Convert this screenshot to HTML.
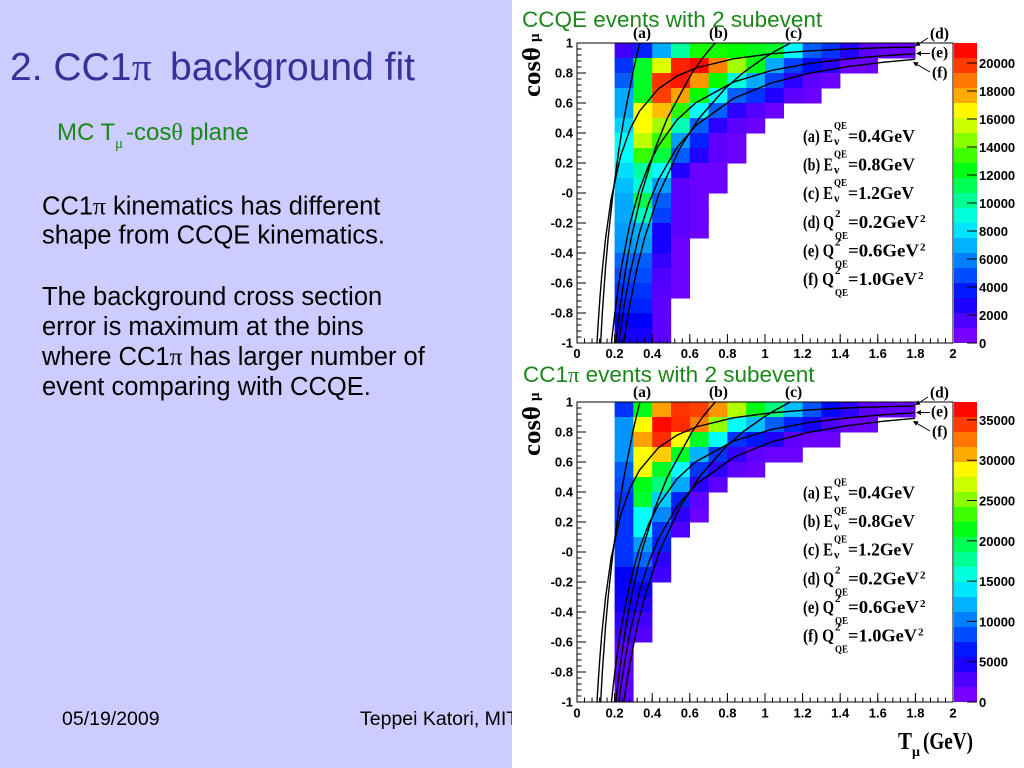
<!DOCTYPE html>
<html><head><meta charset="utf-8"><title>CC1pi background fit</title>
<style>
html,body{margin:0;padding:0;background:#fff;}
body{width:1024px;height:768px;overflow:hidden;}
svg{display:block;}
.sa{font-family:"Liberation Sans",Arial,sans-serif;}
.se{font-family:"Liberation Serif","Times New Roman",serif;font-weight:bold;}
.tk{font-family:"Liberation Sans",Arial,sans-serif;font-weight:bold;font-size:13px;fill:#000;}
</style></head><body>
<svg width="1024" height="768" viewBox="0 0 1024 768" xmlns="http://www.w3.org/2000/svg">
<rect x="0" y="0" width="512" height="768" fill="#ccccff"/>
<g class="sa">
<text x="10" y="80" font-size="39" fill="#333399">2. CC1<tspan x="132" font-family="Liberation Serif">π</tspan><tspan x="170">background fit</tspan></text>
<text y="140" font-size="24" fill="#1b871b"><tspan x="57">MC T</tspan><tspan x="115" y="148" font-size="15" font-family="Liberation Serif">μ</tspan><tspan x="126" y="140">-cos</tspan><tspan font-family="Liberation Serif">θ</tspan><tspan x="190">plane</tspan></text>
<g font-size="25.5" fill="#000">
<text x="42" y="214.5">CC1<tspan font-family="Liberation Serif">π</tspan> kinematics has different</text>
<text x="42" y="243.5">shape from CCQE kinematics.</text>
<text x="42" y="305">The background cross section</text>
<text x="42" y="335">error is maximum at the bins</text>
<text x="42" y="365">where CC1<tspan font-family="Liberation Serif">π</tspan> has larger number of</text>
<text x="42" y="395">event comparing with CCQE.</text>
</g>
<text x="62" y="725" font-size="19.5" fill="#000">05/19/2009</text>
<text x="360" y="725" font-size="19.5" fill="#000">Teppei Katori, MIT</text>
</g>
<rect x="512" y="0" width="512" height="768" fill="#ffffff"/>

<text class="sa" x="522" y="27" font-size="22.5" fill="#1b871b">CCQE events with 2 subevent</text>
<text class="sa" x="523" y="382" font-size="22.5" fill="#1b871b">CC1<tspan font-family="Liberation Serif">π</tspan> events with 2 subevent</text>

<!-- ================= TOP PLOT ================= -->
<g>
<!-- heatmap -->
<g transform="translate(0,43)"><rect x="614.6" width="19.3" height="15.5" fill="hsl(255,100%,50%)"/><rect x="633.4" width="19.3" height="15.5" fill="hsl(232,100%,50%)"/><rect x="652.2" width="19.3" height="15.5" fill="hsl(200,100%,50%)"/><rect x="671" width="19.3" height="15.5" fill="hsl(158,100%,50%)"/><rect x="689.8" width="19.3" height="15.5" fill="hsl(115,100%,50%)"/><rect x="708.6" width="19.3" height="15.5" fill="hsl(115,100%,50%)"/><rect x="727.4" width="19.3" height="15.5" fill="hsl(120,100%,50%)"/><rect x="746.2" width="19.3" height="15.5" fill="hsl(125,100%,50%)"/><rect x="765" width="19.3" height="15.5" fill="hsl(130,100%,50%)"/><rect x="783.8" width="19.3" height="15.5" fill="hsl(182,100%,50%)"/><rect x="802.6" width="19.3" height="15.5" fill="hsl(218,100%,50%)"/><rect x="821.4" width="19.3" height="15.5" fill="hsl(228,100%,50%)"/><rect x="840.2" width="19.3" height="15.5" fill="hsl(248,100%,50%)"/><rect x="859" width="19.3" height="15.5" fill="hsl(262,100%,50%)"/><rect x="877.8" width="19.3" height="15.5" fill="hsl(265,100%,50%)"/><rect x="896.6" width="19" height="15.5" fill="hsl(265,100%,50%)"/></g>
<g transform="translate(0,58)"><rect x="614.6" width="19.3" height="15.5" fill="hsl(228,100%,50%)"/><rect x="633.4" width="19.3" height="15.5" fill="hsl(130,100%,50%)"/><rect x="652.2" width="19.3" height="15.5" fill="hsl(68,100%,50%)"/><rect x="671" width="19.3" height="15.5" fill="hsl(8,100%,50%)"/><rect x="689.8" width="19.3" height="15.5" fill="hsl(2,100%,50%)"/><rect x="708.6" width="19.3" height="15.5" fill="hsl(30,100%,50%)"/><rect x="727.4" width="19.3" height="15.5" fill="hsl(82,100%,50%)"/><rect x="746.2" width="19.3" height="15.5" fill="hsl(125,100%,50%)"/><rect x="765" width="19.3" height="15.5" fill="hsl(200,100%,50%)"/><rect x="783.8" width="19.3" height="15.5" fill="hsl(225,100%,50%)"/><rect x="802.6" width="19.3" height="15.5" fill="hsl(238,100%,50%)"/><rect x="821.4" width="19.3" height="15.5" fill="hsl(250,100%,50%)"/><rect x="840.2" width="19.3" height="15.5" fill="hsl(265,100%,50%)"/><rect x="859" width="19" height="15.5" fill="hsl(265,100%,50%)"/></g>
<g transform="translate(0,73)"><rect x="614.6" width="19.3" height="15.5" fill="hsl(218,100%,50%)"/><rect x="633.4" width="19.3" height="15.5" fill="hsl(128,100%,50%)"/><rect x="652.2" width="19.3" height="15.5" fill="hsl(12,100%,50%)"/><rect x="671" width="19.3" height="15.5" fill="hsl(5,100%,50%)"/><rect x="689.8" width="19.3" height="15.5" fill="hsl(35,100%,50%)"/><rect x="708.6" width="19.3" height="15.5" fill="hsl(120,100%,50%)"/><rect x="727.4" width="19.3" height="15.5" fill="hsl(172,100%,50%)"/><rect x="746.2" width="19.3" height="15.5" fill="hsl(200,100%,50%)"/><rect x="765" width="19.3" height="15.5" fill="hsl(225,100%,50%)"/><rect x="783.8" width="19.3" height="15.5" fill="hsl(250,100%,50%)"/><rect x="802.6" width="19.3" height="15.5" fill="hsl(262,100%,50%)"/><rect x="821.4" width="19" height="15.5" fill="hsl(265,100%,50%)"/></g>
<g transform="translate(0,88)"><rect x="614.6" width="19.3" height="15.5" fill="hsl(200,100%,50%)"/><rect x="633.4" width="19.3" height="15.5" fill="hsl(128,100%,50%)"/><rect x="652.2" width="19.3" height="15.5" fill="hsl(15,100%,50%)"/><rect x="671" width="19.3" height="15.5" fill="hsl(38,100%,50%)"/><rect x="689.8" width="19.3" height="15.5" fill="hsl(118,100%,50%)"/><rect x="708.6" width="19.3" height="15.5" fill="hsl(180,100%,50%)"/><rect x="727.4" width="19.3" height="15.5" fill="hsl(218,100%,50%)"/><rect x="746.2" width="19.3" height="15.5" fill="hsl(228,100%,50%)"/><rect x="765" width="19.3" height="15.5" fill="hsl(248,100%,50%)"/><rect x="783.8" width="19.3" height="15.5" fill="hsl(262,100%,50%)"/><rect x="802.6" width="19" height="15.5" fill="hsl(265,100%,50%)"/></g>
<g transform="translate(0,103)"><rect x="614.6" width="19.3" height="15.5" fill="hsl(200,100%,50%)"/><rect x="633.4" width="19.3" height="15.5" fill="hsl(62,100%,50%)"/><rect x="652.2" width="19.3" height="15.5" fill="hsl(45,100%,50%)"/><rect x="671" width="19.3" height="15.5" fill="hsl(110,100%,50%)"/><rect x="689.8" width="19.3" height="15.5" fill="hsl(180,100%,50%)"/><rect x="708.6" width="19.3" height="15.5" fill="hsl(218,100%,50%)"/><rect x="727.4" width="19.3" height="15.5" fill="hsl(250,100%,50%)"/><rect x="746.2" width="19.3" height="15.5" fill="hsl(260,100%,50%)"/><rect x="765" width="19" height="15.5" fill="hsl(265,100%,50%)"/></g>
<g transform="translate(0,118)"><rect x="614.6" width="19.3" height="15.5" fill="hsl(190,100%,50%)"/><rect x="633.4" width="19.3" height="15.5" fill="hsl(60,100%,50%)"/><rect x="652.2" width="19.3" height="15.5" fill="hsl(82,100%,50%)"/><rect x="671" width="19.3" height="15.5" fill="hsl(162,100%,50%)"/><rect x="689.8" width="19.3" height="15.5" fill="hsl(218,100%,50%)"/><rect x="708.6" width="19.3" height="15.5" fill="hsl(250,100%,50%)"/><rect x="727.4" width="19.3" height="15.5" fill="hsl(262,100%,50%)"/><rect x="746.2" width="19" height="15.5" fill="hsl(265,100%,50%)"/></g>
<g transform="translate(0,133)"><rect x="614.6" width="19.3" height="15.5" fill="hsl(180,100%,50%)"/><rect x="633.4" width="19.3" height="15.5" fill="hsl(75,100%,50%)"/><rect x="652.2" width="19.3" height="15.5" fill="hsl(108,100%,50%)"/><rect x="671" width="19.3" height="15.5" fill="hsl(203,100%,50%)"/><rect x="689.8" width="19.3" height="15.5" fill="hsl(232,100%,50%)"/><rect x="708.6" width="19.3" height="15.5" fill="hsl(262,100%,50%)"/><rect x="727.4" width="19" height="15.5" fill="hsl(265,100%,50%)"/></g>
<g transform="translate(0,148)"><rect x="614.6" width="19.3" height="15.5" fill="hsl(180,100%,50%)"/><rect x="633.4" width="19.3" height="15.5" fill="hsl(108,100%,50%)"/><rect x="652.2" width="19.3" height="15.5" fill="hsl(135,100%,50%)"/><rect x="671" width="19.3" height="15.5" fill="hsl(218,100%,50%)"/><rect x="689.8" width="19.3" height="15.5" fill="hsl(248,100%,50%)"/><rect x="708.6" width="19.3" height="15.5" fill="hsl(262,100%,50%)"/><rect x="727.4" width="19" height="15.5" fill="hsl(265,100%,50%)"/></g>
<g transform="translate(0,163)"><rect x="614.6" width="19.3" height="15.5" fill="hsl(188,100%,50%)"/><rect x="633.4" width="19.3" height="15.5" fill="hsl(158,100%,50%)"/><rect x="652.2" width="19.3" height="15.5" fill="hsl(180,100%,50%)"/><rect x="671" width="19.3" height="15.5" fill="hsl(248,100%,50%)"/><rect x="689.8" width="19.3" height="15.5" fill="hsl(265,100%,50%)"/><rect x="708.6" width="19" height="15.5" fill="hsl(265,100%,50%)"/></g>
<g transform="translate(0,178)"><rect x="614.6" width="19.3" height="15.5" fill="hsl(195,100%,50%)"/><rect x="633.4" width="19.3" height="15.5" fill="hsl(170,100%,50%)"/><rect x="652.2" width="19.3" height="15.5" fill="hsl(203,100%,50%)"/><rect x="671" width="19.3" height="15.5" fill="hsl(262,100%,50%)"/><rect x="689.8" width="19.3" height="15.5" fill="hsl(265,100%,50%)"/><rect x="708.6" width="19" height="15.5" fill="hsl(265,100%,50%)"/></g>
<g transform="translate(0,193)"><rect x="614.6" width="19.3" height="15.5" fill="hsl(200,100%,50%)"/><rect x="633.4" width="19.3" height="15.5" fill="hsl(140,100%,50%)"/><rect x="652.2" width="19.3" height="15.5" fill="hsl(218,100%,50%)"/><rect x="671" width="19.3" height="15.5" fill="hsl(262,100%,50%)"/><rect x="689.8" width="19" height="15.5" fill="hsl(265,100%,50%)"/></g>
<g transform="translate(0,208)"><rect x="614.6" width="19.3" height="15.5" fill="hsl(200,100%,50%)"/><rect x="633.4" width="19.3" height="15.5" fill="hsl(165,100%,50%)"/><rect x="652.2" width="19.3" height="15.5" fill="hsl(225,100%,50%)"/><rect x="671" width="19.3" height="15.5" fill="hsl(262,100%,50%)"/><rect x="689.8" width="19" height="15.5" fill="hsl(265,100%,50%)"/></g>
<g transform="translate(0,223)"><rect x="614.6" width="19.3" height="15.5" fill="hsl(203,100%,50%)"/><rect x="633.4" width="19.3" height="15.5" fill="hsl(200,100%,50%)"/><rect x="652.2" width="19.3" height="15.5" fill="hsl(245,100%,50%)"/><rect x="671" width="19.3" height="15.5" fill="hsl(262,100%,50%)"/><rect x="689.8" width="19" height="15.5" fill="hsl(265,100%,50%)"/></g>
<g transform="translate(0,238)"><rect x="614.6" width="19.3" height="15.5" fill="hsl(205,100%,50%)"/><rect x="633.4" width="19.3" height="15.5" fill="hsl(203,100%,50%)"/><rect x="652.2" width="19.3" height="15.5" fill="hsl(245,100%,50%)"/><rect x="671" width="19" height="15.5" fill="hsl(265,100%,50%)"/></g>
<g transform="translate(0,253)"><rect x="614.6" width="19.3" height="15.5" fill="hsl(215,100%,50%)"/><rect x="633.4" width="19.3" height="15.5" fill="hsl(218,100%,50%)"/><rect x="652.2" width="19.3" height="15.5" fill="hsl(252,100%,50%)"/><rect x="671" width="19" height="15.5" fill="hsl(265,100%,50%)"/></g>
<g transform="translate(0,268)"><rect x="614.6" width="19.3" height="15.5" fill="hsl(222,100%,50%)"/><rect x="633.4" width="19.3" height="15.5" fill="hsl(222,100%,50%)"/><rect x="652.2" width="19.3" height="15.5" fill="hsl(258,100%,50%)"/><rect x="671" width="19" height="15.5" fill="hsl(265,100%,50%)"/></g>
<g transform="translate(0,283)"><rect x="614.6" width="19.3" height="15.5" fill="hsl(228,100%,50%)"/><rect x="633.4" width="19.3" height="15.5" fill="hsl(228,100%,50%)"/><rect x="652.2" width="19.3" height="15.5" fill="hsl(260,100%,50%)"/><rect x="671" width="19" height="15.5" fill="hsl(265,100%,50%)"/></g>
<g transform="translate(0,298)"><rect x="614.6" width="19.3" height="15.5" fill="hsl(232,100%,50%)"/><rect x="633.4" width="19.3" height="15.5" fill="hsl(232,100%,50%)"/><rect x="652.2" width="19" height="15.5" fill="hsl(262,100%,50%)"/></g>
<g transform="translate(0,313)"><rect x="614.6" width="19.3" height="15.5" fill="hsl(240,100%,50%)"/><rect x="633.4" width="19.3" height="15.5" fill="hsl(240,100%,50%)"/><rect x="652.2" width="19" height="15.5" fill="hsl(262,100%,50%)"/></g>
<g transform="translate(0,328)"><rect x="614.6" width="19.3" height="15" fill="hsl(245,100%,50%)"/><rect x="633.4" width="19.3" height="15" fill="hsl(245,100%,50%)"/><rect x="652.2" width="19" height="15" fill="hsl(262,100%,50%)"/></g>
<!-- curves -->
<g fill="none" stroke="#000" stroke-width="1.4" stroke-linejoin="round">
<path d="M600.65 343L602.32 313L605.51 268L608.16 238L613.01 193L619.10 148L624.0 118L632.8 73L636.2 58L639.95 43"/>
<path d="M615.87 343L619.30 313L625.80 268L631.24 238L641.54 193L655.35 148L667.37 118L691.94 73L702.67 58L708.70 50.5L715.23 43"/>
<path d="M623.74 343L628.32 313L637.10 268L644.59 238L659.22 193L679.97 148L699.23 118L725.68 88L742.78 73L763.88 58L776.36 50.5L790.45 43"/>
<path d="M597.0 343L598.04 325.6L599.92 298.2L601.8 275.1L605.56 238.3L611.2 198.6L620.6 156.0L630.0 129.3L639.4 111.3L658.2 88.9L677.0 76.1L695.8 68.0L733.4 58.8L771.0 53.8L808.6 50.9L846.2 49.0L883.8 47.7L915.0 47.0"/>
<path d="M611.48 343L612.14 336.6L614.96 311.8L620.6 271.6L630.0 223.3L639.4 189.6L648.8 164.9L658.2 146.1L677.0 119.9L695.8 102.7L733.4 82.1L771.0 70.6L808.6 63.6L846.2 59.0L883.8 55.7L915.0 53.7"/>
<path d="M618.87 343L620.6 329.9L624.36 304.6L630.0 273.2L639.4 233.0L648.8 203.1L658.2 180.2L677.0 147.4L695.8 125.5L733.4 98.5L771.0 83.1L808.6 73.3L846.2 66.8L883.8 62.2L915.0 59.3"/>
</g>
<!-- colorbar -->
<g>
<rect x="954" y="43" width="23" height="15.5" fill="hsl(2,100%,50%)"/><rect x="954" y="58" width="23" height="15.5" fill="hsl(14,100%,50%)"/><rect x="954" y="73" width="23" height="15.5" fill="hsl(28,100%,50%)"/><rect x="954" y="88" width="23" height="15.5" fill="hsl(40,100%,50%)"/><rect x="954" y="103" width="23" height="15.5" fill="hsl(58,100%,50%)"/><rect x="954" y="118" width="23" height="15.5" fill="hsl(72,100%,50%)"/><rect x="954" y="133" width="23" height="15.5" fill="hsl(88,100%,50%)"/><rect x="954" y="148" width="23" height="15.5" fill="hsl(105,100%,50%)"/><rect x="954" y="163" width="23" height="15.5" fill="hsl(125,100%,50%)"/><rect x="954" y="178" width="23" height="15.5" fill="hsl(140,100%,50%)"/><rect x="954" y="193" width="23" height="15.5" fill="hsl(155,100%,50%)"/><rect x="954" y="208" width="23" height="15.5" fill="hsl(172,100%,50%)"/><rect x="954" y="223" width="23" height="15.5" fill="hsl(186,100%,50%)"/><rect x="954" y="238" width="23" height="15.5" fill="hsl(198,100%,50%)"/><rect x="954" y="253" width="23" height="15.5" fill="hsl(210,100%,50%)"/><rect x="954" y="268" width="23" height="15.5" fill="hsl(222,100%,50%)"/><rect x="954" y="283" width="23" height="15.5" fill="hsl(234,100%,50%)"/><rect x="954" y="298" width="23" height="15.5" fill="hsl(246,100%,50%)"/><rect x="954" y="313" width="23" height="15.5" fill="hsl(258,100%,50%)"/><rect x="954" y="328" width="23" height="15" fill="hsl(268,100%,50%)"/>
<path d="M967 63h10M967 91h10M967 119h10M967 147h10M967 175h10M967 203h10M967 231h10M967 259h10M967 287h10M967 315h10M967 343h10" stroke="#000" stroke-width="1"/>
</g>
<!-- frame & ticks -->
<rect x="577" y="43" width="376" height="300" fill="none" stroke="#000" stroke-width="1"/>
<g stroke="#000">
<line x1="579.25" y1="42.5" x2="579.25" y2="344" stroke-width="4.5" stroke-dasharray="1 5"/>
<line x1="581.5" y1="42.5" x2="581.5" y2="344" stroke-width="9" stroke-dasharray="1 29"/>
<line x1="576.5" y1="340.75" x2="954" y2="340.75" stroke-width="4.5" stroke-dasharray="1 6.52"/>
<line x1="576.5" y1="338.5" x2="954" y2="338.5" stroke-width="9" stroke-dasharray="1 36.6"/>
<path d="M928 38L917 45M930 53.5L918 53.5M930 72L915 63.3" stroke-width="1" fill="none"/>
</g>
<path d="M915 46L920.6 45.5L918 41.3ZM916 53.5L921 51L921 56ZM913 62L918.6 62.4L916 66.7Z" fill="#000"/>
<!-- labels -->
<g class="tk" text-anchor="end">
<text x="573" y="47.5">1</text><text x="573" y="77.5">0.8</text><text x="573" y="107.5">0.6</text><text x="573" y="137.5">0.4</text><text x="573" y="167.5">0.2</text><text x="573" y="197.5">-0</text><text x="573" y="227.5">-0.2</text><text x="573" y="257.5">-0.4</text><text x="573" y="287.5">-0.6</text><text x="573" y="317.5">-0.8</text><text x="573" y="347.5">-1</text>
</g>
<g class="tk" text-anchor="middle">
<text x="577" y="358">0</text><text x="614.6" y="358">0.2</text><text x="652.2" y="358">0.4</text><text x="689.8" y="358">0.6</text><text x="727.4" y="358">0.8</text><text x="765" y="358">1</text><text x="802.6" y="358">1.2</text><text x="840.2" y="358">1.4</text><text x="877.8" y="358">1.6</text><text x="915.4" y="358">1.8</text><text x="953" y="358">2</text>
</g>
<g class="tk" font-size="13.5">
<text x="979" y="68">20000</text><text x="979" y="96">18000</text><text x="979" y="124">16000</text><text x="979" y="152">14000</text><text x="979" y="180">12000</text><text x="979" y="208">10000</text><text x="979" y="236">8000</text><text x="979" y="264">6000</text><text x="979" y="292">4000</text><text x="979" y="320">2000</text><text x="979" y="348">0</text>
</g>
<text class="se" font-size="25" transform="translate(540,97) rotate(-90)" textLength="50" lengthAdjust="spacingAndGlyphs">cosθ</text>
<text class="se" font-size="15" transform="translate(539,42) rotate(-90)">μ</text>
<g class="se" fill="#000">
<text x="633" y="38" font-size="15.5">(a)</text>
<text x="709" y="38" font-size="15.5">(b)</text>
<text x="785" y="38" font-size="15.5">(c)</text>
<text x="930" y="38.5" font-size="15.5">(d)</text>
<text x="931" y="57.5" font-size="15.5">(e)</text>
<text x="932" y="77.5" font-size="15.5">(f)</text>
</g>
<g class="se" fill="#000">
<text x="803" y="142" font-size="18" textLength="30" lengthAdjust="spacingAndGlyphs">(a) E</text>
<text x="834" y="129" font-size="11" textLength="13" lengthAdjust="spacingAndGlyphs">QE</text>
<text x="834" y="145" font-size="12">ν</text>
<text x="848" y="142" font-size="18" textLength="67" lengthAdjust="spacingAndGlyphs">=0.4GeV</text>
<text x="803" y="170.5" font-size="18" textLength="30" lengthAdjust="spacingAndGlyphs">(b) E</text>
<text x="834" y="157.5" font-size="11" textLength="13" lengthAdjust="spacingAndGlyphs">QE</text>
<text x="834" y="173.5" font-size="12">ν</text>
<text x="848" y="170.5" font-size="18" textLength="67" lengthAdjust="spacingAndGlyphs">=0.8GeV</text>
<text x="803" y="199" font-size="18" textLength="30" lengthAdjust="spacingAndGlyphs">(c) E</text>
<text x="834" y="186" font-size="11" textLength="13" lengthAdjust="spacingAndGlyphs">QE</text>
<text x="834" y="202" font-size="12">ν</text>
<text x="848" y="199" font-size="18" textLength="66" lengthAdjust="spacingAndGlyphs">=1.2GeV</text>
<text x="803" y="228" font-size="18" textLength="31" lengthAdjust="spacingAndGlyphs">(d) Q</text>
<text x="835" y="217" font-size="11">2</text>
<text x="835" y="239" font-size="11" textLength="13" lengthAdjust="spacingAndGlyphs">QE</text>
<text x="848" y="228" font-size="18" textLength="71" lengthAdjust="spacingAndGlyphs">=0.2GeV</text>
<text x="920" y="222" font-size="11">2</text>
<text x="803" y="256.5" font-size="18" textLength="31" lengthAdjust="spacingAndGlyphs">(e) Q</text>
<text x="835" y="245.5" font-size="11">2</text>
<text x="835" y="267.5" font-size="11" textLength="13" lengthAdjust="spacingAndGlyphs">QE</text>
<text x="848" y="256.5" font-size="18" textLength="71" lengthAdjust="spacingAndGlyphs">=0.6GeV</text>
<text x="920" y="250.5" font-size="11">2</text>
<text x="803" y="285" font-size="18" textLength="31" lengthAdjust="spacingAndGlyphs">(f) Q</text>
<text x="835" y="274" font-size="11">2</text>
<text x="835" y="296" font-size="11" textLength="13" lengthAdjust="spacingAndGlyphs">QE</text>
<text x="848" y="285" font-size="18" textLength="69" lengthAdjust="spacingAndGlyphs">=1.0GeV</text>
<text x="918" y="279" font-size="11">2</text>
</g>
</g>

<!-- ================= BOTTOM PLOT ================= -->
<g transform="translate(0,359)">
<g transform="translate(0,43)"><rect x="614.6" width="19.3" height="15.5" fill="hsl(228,100%,50%)"/><rect x="633.4" width="19.3" height="15.5" fill="hsl(125,100%,50%)"/><rect x="652.2" width="19.3" height="15.5" fill="hsl(38,100%,50%)"/><rect x="671" width="19.3" height="15.5" fill="hsl(12,100%,50%)"/><rect x="689.8" width="19.3" height="15.5" fill="hsl(15,100%,50%)"/><rect x="708.6" width="19.3" height="15.5" fill="hsl(35,100%,50%)"/><rect x="727.4" width="19.3" height="15.5" fill="hsl(78,100%,50%)"/><rect x="746.2" width="19.3" height="15.5" fill="hsl(125,100%,50%)"/><rect x="765" width="19.3" height="15.5" fill="hsl(150,100%,50%)"/><rect x="783.8" width="19.3" height="15.5" fill="hsl(195,100%,50%)"/><rect x="802.6" width="19.3" height="15.5" fill="hsl(220,100%,50%)"/><rect x="821.4" width="19.3" height="15.5" fill="hsl(238,100%,50%)"/><rect x="840.2" width="19.3" height="15.5" fill="hsl(250,100%,50%)"/><rect x="859" width="19.3" height="15.5" fill="hsl(262,100%,50%)"/><rect x="877.8" width="19.3" height="15.5" fill="hsl(265,100%,50%)"/><rect x="896.6" width="19" height="15.5" fill="hsl(265,100%,50%)"/></g>
<g transform="translate(0,58)"><rect x="614.6" width="19.3" height="15.5" fill="hsl(205,100%,50%)"/><rect x="633.4" width="19.3" height="15.5" fill="hsl(60,100%,50%)"/><rect x="652.2" width="19.3" height="15.5" fill="hsl(2,100%,50%)"/><rect x="671" width="19.3" height="15.5" fill="hsl(10,100%,50%)"/><rect x="689.8" width="19.3" height="15.5" fill="hsl(30,100%,50%)"/><rect x="708.6" width="19.3" height="15.5" fill="hsl(85,100%,50%)"/><rect x="727.4" width="19.3" height="15.5" fill="hsl(178,100%,50%)"/><rect x="746.2" width="19.3" height="15.5" fill="hsl(195,100%,50%)"/><rect x="765" width="19.3" height="15.5" fill="hsl(218,100%,50%)"/><rect x="783.8" width="19.3" height="15.5" fill="hsl(232,100%,50%)"/><rect x="802.6" width="19.3" height="15.5" fill="hsl(245,100%,50%)"/><rect x="821.4" width="19.3" height="15.5" fill="hsl(258,100%,50%)"/><rect x="840.2" width="19.3" height="15.5" fill="hsl(265,100%,50%)"/><rect x="859" width="19" height="15.5" fill="hsl(265,100%,50%)"/></g>
<g transform="translate(0,73)"><rect x="614.6" width="19.3" height="15.5" fill="hsl(205,100%,50%)"/><rect x="633.4" width="19.3" height="15.5" fill="hsl(38,100%,50%)"/><rect x="652.2" width="19.3" height="15.5" fill="hsl(10,100%,50%)"/><rect x="671" width="19.3" height="15.5" fill="hsl(60,100%,50%)"/><rect x="689.8" width="19.3" height="15.5" fill="hsl(128,100%,50%)"/><rect x="708.6" width="19.3" height="15.5" fill="hsl(180,100%,50%)"/><rect x="727.4" width="19.3" height="15.5" fill="hsl(228,100%,50%)"/><rect x="746.2" width="19.3" height="15.5" fill="hsl(235,100%,50%)"/><rect x="765" width="19.3" height="15.5" fill="hsl(248,100%,50%)"/><rect x="783.8" width="19.3" height="15.5" fill="hsl(262,100%,50%)"/><rect x="802.6" width="19.3" height="15.5" fill="hsl(265,100%,50%)"/><rect x="821.4" width="19" height="15.5" fill="hsl(265,100%,50%)"/></g>
<g transform="translate(0,88)"><rect x="614.6" width="19.3" height="15.5" fill="hsl(205,100%,50%)"/><rect x="633.4" width="19.3" height="15.5" fill="hsl(60,100%,50%)"/><rect x="652.2" width="19.3" height="15.5" fill="hsl(48,100%,50%)"/><rect x="671" width="19.3" height="15.5" fill="hsl(128,100%,50%)"/><rect x="689.8" width="19.3" height="15.5" fill="hsl(198,100%,50%)"/><rect x="708.6" width="19.3" height="15.5" fill="hsl(228,100%,50%)"/><rect x="727.4" width="19.3" height="15.5" fill="hsl(252,100%,50%)"/><rect x="746.2" width="19.3" height="15.5" fill="hsl(262,100%,50%)"/><rect x="765" width="19.3" height="15.5" fill="hsl(265,100%,50%)"/><rect x="783.8" width="19" height="15.5" fill="hsl(265,100%,50%)"/></g>
<g transform="translate(0,103)"><rect x="614.6" width="19.3" height="15.5" fill="hsl(218,100%,50%)"/><rect x="633.4" width="19.3" height="15.5" fill="hsl(62,100%,50%)"/><rect x="652.2" width="19.3" height="15.5" fill="hsl(128,100%,50%)"/><rect x="671" width="19.3" height="15.5" fill="hsl(180,100%,50%)"/><rect x="689.8" width="19.3" height="15.5" fill="hsl(228,100%,50%)"/><rect x="708.6" width="19.3" height="15.5" fill="hsl(250,100%,50%)"/><rect x="727.4" width="19.3" height="15.5" fill="hsl(262,100%,50%)"/><rect x="746.2" width="19" height="15.5" fill="hsl(265,100%,50%)"/></g>
<g transform="translate(0,118)"><rect x="614.6" width="19.3" height="15.5" fill="hsl(222,100%,50%)"/><rect x="633.4" width="19.3" height="15.5" fill="hsl(125,100%,50%)"/><rect x="652.2" width="19.3" height="15.5" fill="hsl(150,100%,50%)"/><rect x="671" width="19.3" height="15.5" fill="hsl(200,100%,50%)"/><rect x="689.8" width="19.3" height="15.5" fill="hsl(250,100%,50%)"/><rect x="708.6" width="19" height="15.5" fill="hsl(262,100%,50%)"/></g>
<g transform="translate(0,133)"><rect x="614.6" width="19.3" height="15.5" fill="hsl(228,100%,50%)"/><rect x="633.4" width="19.3" height="15.5" fill="hsl(130,100%,50%)"/><rect x="652.2" width="19.3" height="15.5" fill="hsl(192,100%,50%)"/><rect x="671" width="19.3" height="15.5" fill="hsl(232,100%,50%)"/><rect x="689.8" width="19" height="15.5" fill="hsl(262,100%,50%)"/></g>
<g transform="translate(0,148)"><rect x="614.6" width="19.3" height="15.5" fill="hsl(228,100%,50%)"/><rect x="633.4" width="19.3" height="15.5" fill="hsl(180,100%,50%)"/><rect x="652.2" width="19.3" height="15.5" fill="hsl(208,100%,50%)"/><rect x="671" width="19.3" height="15.5" fill="hsl(250,100%,50%)"/><rect x="689.8" width="19" height="15.5" fill="hsl(265,100%,50%)"/></g>
<g transform="translate(0,163)"><rect x="614.6" width="19.3" height="15.5" fill="hsl(228,100%,50%)"/><rect x="633.4" width="19.3" height="15.5" fill="hsl(180,100%,50%)"/><rect x="652.2" width="19.3" height="15.5" fill="hsl(228,100%,50%)"/><rect x="671" width="19" height="15.5" fill="hsl(258,100%,50%)"/></g>
<g transform="translate(0,178)"><rect x="614.6" width="19.3" height="15.5" fill="hsl(228,100%,50%)"/><rect x="633.4" width="19.3" height="15.5" fill="hsl(203,100%,50%)"/><rect x="652.2" width="19" height="15.5" fill="hsl(232,100%,50%)"/></g>
<g transform="translate(0,193)"><rect x="614.6" width="19.3" height="15.5" fill="hsl(228,100%,50%)"/><rect x="633.4" width="19.3" height="15.5" fill="hsl(215,100%,50%)"/><rect x="652.2" width="19" height="15.5" fill="hsl(250,100%,50%)"/></g>
<g transform="translate(0,208)"><rect x="614.6" width="19.3" height="15.5" fill="hsl(240,100%,50%)"/><rect x="633.4" width="19.3" height="15.5" fill="hsl(232,100%,50%)"/><rect x="652.2" width="19" height="15.5" fill="hsl(255,100%,50%)"/></g>
<g transform="translate(0,223)"><rect x="614.6" width="19.3" height="15.5" fill="hsl(242,100%,50%)"/><rect x="633.4" width="19" height="15.5" fill="hsl(242,100%,50%)"/></g>
<g transform="translate(0,238)"><rect x="614.6" width="19.3" height="15.5" fill="hsl(244,100%,50%)"/><rect x="633.4" width="19" height="15.5" fill="hsl(248,100%,50%)"/></g>
<g transform="translate(0,253)"><rect x="614.6" width="19.3" height="15.5" fill="hsl(250,100%,50%)"/><rect x="633.4" width="19" height="15.5" fill="hsl(255,100%,50%)"/></g>
<g transform="translate(0,268)"><rect x="614.6" width="19.3" height="15.5" fill="hsl(255,100%,50%)"/><rect x="633.4" width="19" height="15.5" fill="hsl(260,100%,50%)"/></g>
<rect x="614.6" y="283" width="19" height="60" fill="hsl(262,100%,50%)"/>
<g fill="none" stroke="#000" stroke-width="1.4" stroke-linejoin="round">
<path d="M600.65 343L602.32 313L605.51 268L608.16 238L613.01 193L619.10 148L624.0 118L632.8 73L636.2 58L639.95 43"/>
<path d="M615.87 343L619.30 313L625.80 268L631.24 238L641.54 193L655.35 148L667.37 118L691.94 73L702.67 58L708.70 50.5L715.23 43"/>
<path d="M623.74 343L628.32 313L637.10 268L644.59 238L659.22 193L679.97 148L699.23 118L725.68 88L742.78 73L763.88 58L776.36 50.5L790.45 43"/>
<path d="M597.0 343L598.04 325.6L599.92 298.2L601.8 275.1L605.56 238.3L611.2 198.6L620.6 156.0L630.0 129.3L639.4 111.3L658.2 88.9L677.0 76.1L695.8 68.0L733.4 58.8L771.0 53.8L808.6 50.9L846.2 49.0L883.8 47.7L915.0 47.0"/>
<path d="M611.48 343L612.14 336.6L614.96 311.8L620.6 271.6L630.0 223.3L639.4 189.6L648.8 164.9L658.2 146.1L677.0 119.9L695.8 102.7L733.4 82.1L771.0 70.6L808.6 63.6L846.2 59.0L883.8 55.7L915.0 53.7"/>
<path d="M618.87 343L620.6 329.9L624.36 304.6L630.0 273.2L639.4 233.0L648.8 203.1L658.2 180.2L677.0 147.4L695.8 125.5L733.4 98.5L771.0 83.1L808.6 73.3L846.2 66.8L883.8 62.2L915.0 59.3"/>
</g>
<g>
<rect x="954" y="43" width="23" height="15.5" fill="hsl(2,100%,50%)"/><rect x="954" y="58" width="23" height="15.5" fill="hsl(14,100%,50%)"/><rect x="954" y="73" width="23" height="15.5" fill="hsl(28,100%,50%)"/><rect x="954" y="88" width="23" height="15.5" fill="hsl(40,100%,50%)"/><rect x="954" y="103" width="23" height="15.5" fill="hsl(58,100%,50%)"/><rect x="954" y="118" width="23" height="15.5" fill="hsl(72,100%,50%)"/><rect x="954" y="133" width="23" height="15.5" fill="hsl(88,100%,50%)"/><rect x="954" y="148" width="23" height="15.5" fill="hsl(105,100%,50%)"/><rect x="954" y="163" width="23" height="15.5" fill="hsl(125,100%,50%)"/><rect x="954" y="178" width="23" height="15.5" fill="hsl(140,100%,50%)"/><rect x="954" y="193" width="23" height="15.5" fill="hsl(155,100%,50%)"/><rect x="954" y="208" width="23" height="15.5" fill="hsl(172,100%,50%)"/><rect x="954" y="223" width="23" height="15.5" fill="hsl(186,100%,50%)"/><rect x="954" y="238" width="23" height="15.5" fill="hsl(198,100%,50%)"/><rect x="954" y="253" width="23" height="15.5" fill="hsl(210,100%,50%)"/><rect x="954" y="268" width="23" height="15.5" fill="hsl(222,100%,50%)"/><rect x="954" y="283" width="23" height="15.5" fill="hsl(234,100%,50%)"/><rect x="954" y="298" width="23" height="15.5" fill="hsl(246,100%,50%)"/><rect x="954" y="313" width="23" height="15.5" fill="hsl(258,100%,50%)"/><rect x="954" y="328" width="23" height="15" fill="hsl(268,100%,50%)"/>
<path d="M967 60.9h10M967 101.2h10M967 141.5h10M967 181.8h10M967 222.1h10M967 262.4h10M967 302.7h10M967 343h10" stroke="#000" stroke-width="1"/>
</g>
<rect x="577" y="43" width="376" height="300" fill="none" stroke="#000" stroke-width="1"/>
<g stroke="#000">
<line x1="579.25" y1="42.5" x2="579.25" y2="344" stroke-width="4.5" stroke-dasharray="1 5"/>
<line x1="581.5" y1="42.5" x2="581.5" y2="344" stroke-width="9" stroke-dasharray="1 29"/>
<line x1="576.5" y1="340.75" x2="954" y2="340.75" stroke-width="4.5" stroke-dasharray="1 6.52"/>
<line x1="576.5" y1="338.5" x2="954" y2="338.5" stroke-width="9" stroke-dasharray="1 36.6"/>
<path d="M928 38L917 45M930 53.5L918 53.5M930 72L915 63.3" stroke-width="1" fill="none"/>
</g>
<path d="M915 46L920.6 45.5L918 41.3ZM916 53.5L921 51L921 56ZM913 62L918.6 62.4L916 66.7Z" fill="#000"/>
<g class="tk" text-anchor="end">
<text x="573" y="47.5">1</text><text x="573" y="77.5">0.8</text><text x="573" y="107.5">0.6</text><text x="573" y="137.5">0.4</text><text x="573" y="167.5">0.2</text><text x="573" y="197.5">-0</text><text x="573" y="227.5">-0.2</text><text x="573" y="257.5">-0.4</text><text x="573" y="287.5">-0.6</text><text x="573" y="317.5">-0.8</text><text x="573" y="347.5">-1</text>
</g>
<g class="tk" text-anchor="middle">
<text x="577" y="358.5">0</text><text x="614.6" y="358.5">0.2</text><text x="652.2" y="358.5">0.4</text><text x="689.8" y="358.5">0.6</text><text x="727.4" y="358.5">0.8</text><text x="765" y="358.5">1</text><text x="802.6" y="358.5">1.2</text><text x="840.2" y="358.5">1.4</text><text x="877.8" y="358.5">1.6</text><text x="915.4" y="358.5">1.8</text><text x="953" y="358.5">2</text>
</g>
<g class="tk" font-size="13.5">
<text x="979" y="65.9">35000</text><text x="979" y="106.2">30000</text><text x="979" y="146.5">25000</text><text x="979" y="186.8">20000</text><text x="979" y="227.1">15000</text><text x="979" y="267.4">10000</text><text x="979" y="307.7">5000</text><text x="979" y="348">0</text>
</g>
<text class="se" font-size="25" transform="translate(540,97) rotate(-90)" textLength="50" lengthAdjust="spacingAndGlyphs">cosθ</text>
<text class="se" font-size="15" transform="translate(539,42) rotate(-90)">μ</text>
<g class="se" fill="#000">
<text x="633" y="38" font-size="15.5">(a)</text>
<text x="709" y="38" font-size="15.5">(b)</text>
<text x="785" y="38" font-size="15.5">(c)</text>
<text x="930" y="38.5" font-size="15.5">(d)</text>
<text x="931" y="57.5" font-size="15.5">(e)</text>
<text x="932" y="77.5" font-size="15.5">(f)</text>
</g>
<g class="se" fill="#000" transform="translate(0,-2.5)">
<text x="803" y="142" font-size="18" textLength="30" lengthAdjust="spacingAndGlyphs">(a) E</text>
<text x="834" y="129" font-size="11" textLength="13" lengthAdjust="spacingAndGlyphs">QE</text>
<text x="834" y="145" font-size="12">ν</text>
<text x="848" y="142" font-size="18" textLength="67" lengthAdjust="spacingAndGlyphs">=0.4GeV</text>
<text x="803" y="170.5" font-size="18" textLength="30" lengthAdjust="spacingAndGlyphs">(b) E</text>
<text x="834" y="157.5" font-size="11" textLength="13" lengthAdjust="spacingAndGlyphs">QE</text>
<text x="834" y="173.5" font-size="12">ν</text>
<text x="848" y="170.5" font-size="18" textLength="67" lengthAdjust="spacingAndGlyphs">=0.8GeV</text>
<text x="803" y="199" font-size="18" textLength="30" lengthAdjust="spacingAndGlyphs">(c) E</text>
<text x="834" y="186" font-size="11" textLength="13" lengthAdjust="spacingAndGlyphs">QE</text>
<text x="834" y="202" font-size="12">ν</text>
<text x="848" y="199" font-size="18" textLength="66" lengthAdjust="spacingAndGlyphs">=1.2GeV</text>
<text x="803" y="228" font-size="18" textLength="31" lengthAdjust="spacingAndGlyphs">(d) Q</text>
<text x="835" y="217" font-size="11">2</text>
<text x="835" y="239" font-size="11" textLength="13" lengthAdjust="spacingAndGlyphs">QE</text>
<text x="848" y="228" font-size="18" textLength="71" lengthAdjust="spacingAndGlyphs">=0.2GeV</text>
<text x="920" y="222" font-size="11">2</text>
<text x="803" y="256.5" font-size="18" textLength="31" lengthAdjust="spacingAndGlyphs">(e) Q</text>
<text x="835" y="245.5" font-size="11">2</text>
<text x="835" y="267.5" font-size="11" textLength="13" lengthAdjust="spacingAndGlyphs">QE</text>
<text x="848" y="256.5" font-size="18" textLength="71" lengthAdjust="spacingAndGlyphs">=0.6GeV</text>
<text x="920" y="250.5" font-size="11">2</text>
<text x="803" y="285" font-size="18" textLength="31" lengthAdjust="spacingAndGlyphs">(f) Q</text>
<text x="835" y="274" font-size="11">2</text>
<text x="835" y="296" font-size="11" textLength="13" lengthAdjust="spacingAndGlyphs">QE</text>
<text x="848" y="285" font-size="18" textLength="69" lengthAdjust="spacingAndGlyphs">=1.0GeV</text>
<text x="918" y="279" font-size="11">2</text>
</g>
</g>

<text class="se" x="898" y="749" font-size="24" textLength="14" lengthAdjust="spacingAndGlyphs">T</text>
<text class="se" x="912" y="756" font-size="14">μ</text>
<text class="se" x="923" y="749" font-size="24" textLength="50" lengthAdjust="spacingAndGlyphs">(GeV)</text>
</svg>
</body></html>
